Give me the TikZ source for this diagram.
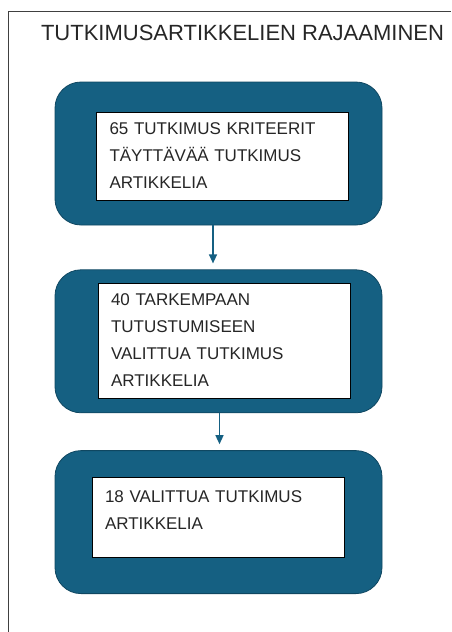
\documentclass[tikz,border=0pt]{standalone}
\usepackage{fontspec}
\setmainfont{Liberation Sans}
\usetikzlibrary{positioning,arrows.meta}
\definecolor{accent}{HTML}{156082}
\definecolor{accentdark}{HTML}{0F4761}
\begin{document}
\begin{tikzpicture}[x=1pt, y=-1pt, thick,
		main/.style = {draw=accentdark, fill=accent, line width=0.8pt, rounded corners=26pt, minimum width=327pt, minimum height=143pt},
		textbox/.style = {draw=black, fill=white, line width=0.9pt, minimum width=252pt, text width=226pt, inner xsep=13pt, align=left, text=black!85, font=\fontsize{17}{27}\selectfont},
		flow/.style = {-{Triangle[length=9pt,width=8pt]}, draw=accent, line width=1.3pt, shorten >=6pt}]
		
		\useasboundingbox (0,0) rectangle (451,632);
		\draw[draw=black!75, line width=0.8pt] (8,632) -- (8,11) -- (451,11);
		
		\node[text=black!85, font=\fontsize{22}{26}\selectfont] (t) at (242.5,33) {TUTKIMUSARTIKKELIEN RAJAAMINEN};
		
		\node[main] (1) at (218.5,153.5) {};
		\node[main] (2) [below=44pt of 1] {};
		\node[main] (3) [below=37pt of 2] {};
		
		\node[textbox, minimum height=88pt] (4) at (222.5,156) {65 TUTKIMUS KRITEERIT\\TÄYTTÄVÄÄ TUTKIMUS\\ARTIKKELIA};
		\node[textbox, minimum height=115pt] (5) at (224,340.5) {40 TARKEMPAAN\\TUTUSTUMISEEN\\VALITTUA TUTKIMUS\\ARTIKKELIA};
		\node[textbox, minimum height=80pt, text depth=40pt] (6) at (218,517) {18 VALITTUA TUTKIMUS\\ARTIKKELIA};
		
		\draw[flow] ([xshift=-5.5pt]1.south) -- ([xshift=-5.5pt]2.north);
		\draw[flow] ([xshift=1pt]2.south) -- ([xshift=1pt]3.north);
	\end{tikzpicture}
\end{document}
